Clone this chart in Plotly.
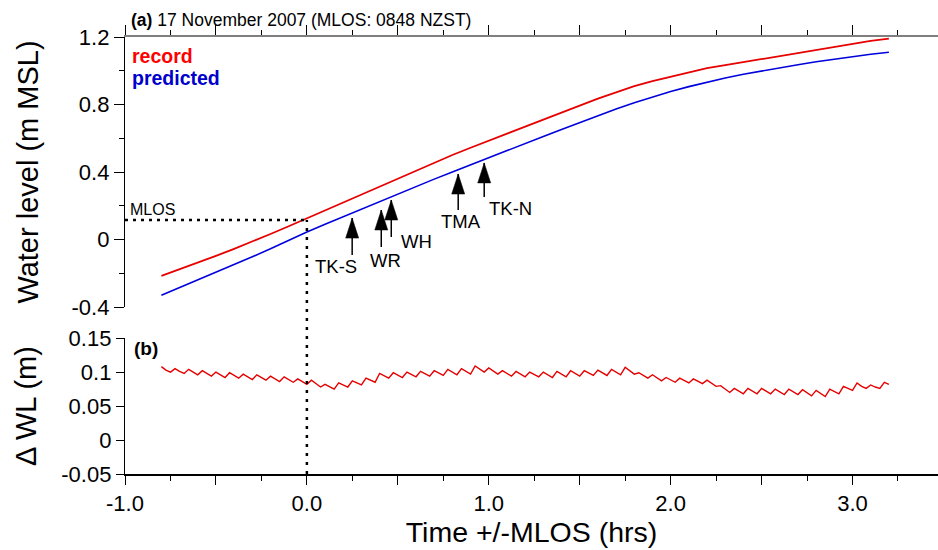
import numpy as np
import plotly.graph_objects as go

# ---------------- data ----------------
time_hr = np.round(np.linspace(-0.8, 3.2, 41), 3)

predicted_wl = [-0.330, -0.285, -0.240, -0.195, -0.150, -0.102, -0.055, -0.005, 0.045, 0.090,
                0.135, 0.180, 0.225, 0.270, 0.315, 0.358, 0.400, 0.443, 0.485, 0.527,
                0.569, 0.611, 0.652, 0.694, 0.735, 0.774, 0.811, 0.845, 0.877, 0.906,
                0.933, 0.957, 0.979, 0.999, 1.018, 1.036, 1.053, 1.069, 1.084, 1.098,
                1.110]

record_wl = [-0.215, -0.177, -0.138, -0.097, -0.055, -0.012, 0.033, 0.079, 0.126, 0.172,
             0.220, 0.268, 0.316, 0.364, 0.411, 0.457, 0.501, 0.544, 0.585, 0.625,
             0.666, 0.708, 0.750, 0.793, 0.835, 0.874, 0.909, 0.938, 0.965, 0.992,
             1.015, 1.033, 1.051, 1.070, 1.088, 1.105, 1.121, 1.140, 1.161, 1.177,
             1.191]

delta_time_hr = np.round(np.linspace(-0.8, 3.2, 161), 4)
delta_wl = [
    0.108, 0.103, 0.100, 0.105, 0.101, 0.098, 0.104, 0.100, 0.096, 0.102, 0.098, 0.094,
    0.100, 0.096, 0.092, 0.099, 0.095, 0.091, 0.097, 0.093, 0.089, 0.096, 0.092, 0.088,
    0.094, 0.090, 0.086, 0.093, 0.089, 0.085, 0.090, 0.086, 0.082, 0.088, 0.083, 0.078,
    0.082, 0.078, 0.075, 0.084, 0.081, 0.078, 0.087, 0.084, 0.081, 0.091, 0.088, 0.085,
    0.098, 0.095, 0.091, 0.099, 0.095, 0.092, 0.100, 0.096, 0.093, 0.101, 0.097, 0.094,
    0.102, 0.098, 0.095, 0.104, 0.100, 0.096, 0.105, 0.101, 0.097, 0.109, 0.104, 0.100,
    0.106, 0.101, 0.097, 0.102, 0.098, 0.094, 0.101, 0.097, 0.093, 0.100, 0.096, 0.093,
    0.100, 0.096, 0.092, 0.101, 0.097, 0.093, 0.102, 0.098, 0.094, 0.102, 0.098, 0.095,
    0.103, 0.099, 0.095, 0.104, 0.100, 0.096, 0.107, 0.102, 0.097, 0.099, 0.095, 0.091,
    0.096, 0.091, 0.087, 0.092, 0.088, 0.085, 0.091, 0.087, 0.084, 0.090, 0.086, 0.083,
    0.088, 0.083, 0.079, 0.080, 0.075, 0.070, 0.076, 0.072, 0.068, 0.076, 0.072, 0.068,
    0.076, 0.072, 0.068, 0.075, 0.071, 0.067, 0.075, 0.071, 0.067, 0.074, 0.070, 0.065,
    0.073, 0.068, 0.064, 0.075, 0.071, 0.068, 0.079, 0.076, 0.073, 0.084, 0.079, 0.076,
    0.081, 0.078, 0.076, 0.085, 0.082,
]

site_names = ["TK-S", "WR", "WH", "TMA", "TK-N"]
site_time_hr = [0.249, 0.409, 0.464, 0.832, 0.975]
site_tip_wl = [0.127, 0.175, 0.234, 0.388, 0.454]
site_tail_wl = [-0.092, -0.044, 0.015, 0.175, 0.252]

mlos_time_hr = 0.0
mlos_wl = 0.116

x_tick_vals = [-1.0, -0.5, 0.0, 0.5, 1.0, 1.5, 2.0, 2.5, 3.0, 3.5]
x_tick_text = ["-1.0", "", "0.0", "", "1.0", "", "2.0", "", "3.0", ""]
y1_tick_vals = [-0.4, 0.0, 0.4, 0.8, 1.2]
y1_tick_text = ["-0.4", "0", "0.4", "0.8", "1.2"]
y2_tick_vals = [-0.05, 0.0, 0.05, 0.10, 0.15]
y2_tick_text = ["-0.05", "0", "0.05", "0.1", "0.15"]

# ---------------- styles ----------------
FONT = "Liberation Sans, Arial, sans-serif"
RED = "#e60000"
BLUE = "#0000dd"
X_RANGE = [-1.0, 3.47]
Y1_RANGE = [-0.4, 1.2]
Y2_RANGE = [-0.05, 0.15]
Y1_DOMAIN = [0.382, 1.0]
Y2_DOMAIN = [0.0, 0.311]
label_style = [  # (xanchor, xshift, yshift)
    ("center", -16, 1),
    ("center", 4, -1),
    ("left", 8, 8),
    ("center", 3, 1),
    ("left", 3, 1),
]

fig = go.Figure()
fig.add_trace(go.Scatter(x=time_hr, y=record_wl, mode="lines",
                         line=dict(color=RED, width=1.8), xaxis="x", yaxis="y",
                         showlegend=False))
fig.add_trace(go.Scatter(x=time_hr, y=predicted_wl, mode="lines",
                         line=dict(color=BLUE, width=1.6), xaxis="x", yaxis="y",
                         showlegend=False))
fig.add_trace(go.Scatter(x=delta_time_hr, y=delta_wl, mode="lines",
                         line=dict(color=RED, width=1.4), xaxis="x2", yaxis="y2",
                         showlegend=False))

tickfont = dict(family=FONT, size=22, color="black")

fig.update_layout(
    width=938, height=550,
    margin=dict(l=125, r=0, t=37, b=76),
    paper_bgcolor="white", plot_bgcolor="white",
    font=dict(family=FONT, color="black"),
    xaxis=dict(domain=[0, 1], anchor="y", side="top", range=X_RANGE,
               showgrid=False, zeroline=False, showticklabels=False,
               tickvals=x_tick_vals, ticks="outside", ticklen=10, tickwidth=1.3,
               tickcolor="black", showline=True, linecolor="#7f7f7f", linewidth=2,
               minor=dict(dtick=0.25, tick0=0, ticks="outside", ticklen=5,
                          tickwidth=1.3, tickcolor="black")),
    yaxis=dict(domain=Y1_DOMAIN, anchor="x", range=Y1_RANGE,
               showgrid=False, zeroline=False,
               tickvals=y1_tick_vals, ticktext=y1_tick_text, tickfont=tickfont,
               ticks="outside", ticklen=10, tickwidth=1.3, tickcolor="black",
               showline=True, linecolor="black", linewidth=1.3,
               minor=dict(dtick=0.2, tick0=0, ticks="outside", ticklen=5,
                          tickwidth=1.3, tickcolor="black"),
               title=dict(text="Water level (m MSL)",
                          font=dict(family=FONT, size=29), standoff=24)),
    xaxis2=dict(domain=[0, 1], anchor="y2", range=X_RANGE, matches="x",
                showgrid=False, zeroline=False,
                tickvals=x_tick_vals, ticktext=x_tick_text, tickfont=tickfont,
                ticks="outside", ticklen=9, tickwidth=1.3, tickcolor="black",
                showline=True, linecolor="black", linewidth=1.5,
                minor=dict(dtick=0.25, tick0=0, ticks="outside", ticklen=5,
                           tickwidth=1.3, tickcolor="black"),
                title=dict(text="Time +/-MLOS (hrs)",
                           font=dict(family=FONT, size=28.5), standoff=4)),
    yaxis2=dict(domain=Y2_DOMAIN, anchor="x2", range=Y2_RANGE,
                showgrid=False, zeroline=False,
                tickvals=y2_tick_vals, ticktext=y2_tick_text, tickfont=tickfont,
                ticks="outside", ticklen=8, tickwidth=1.3, tickcolor="black",
                showline=True, linecolor="black", linewidth=1.3,
                title=dict(text="\u0394 WL (m)",
                           font=dict(family=FONT, size=29), standoff=16)),
)

annotations = [
    dict(text="<b>(a)</b> 17 November 2007 (MLOS: 0848 NZST)", xref="paper", yref="paper",
         x=0, y=1, xanchor="left", yanchor="bottom", xshift=4, yshift=5,
         showarrow=False, font=dict(family=FONT, size=17.5, color="black")),
    dict(text="<b>record</b>", xref="x domain", yref="y domain", x=0, y=0.93,
         xanchor="left", yanchor="middle", xshift=5, showarrow=False,
         font=dict(family=FONT, size=19.5, color="#ff0000")),
    dict(text="<b>predicted</b>", xref="x domain", yref="y domain", x=0, y=0.848,
         xanchor="left", yanchor="middle", xshift=5, showarrow=False,
         font=dict(family=FONT, size=19.5, color="#0000cc")),
    dict(text="<b>(b)</b>", xref="x2 domain", yref="y2 domain", x=0, y=0.926,
         xanchor="left", yanchor="middle", xshift=7, showarrow=False,
         font=dict(family=FONT, size=19, color="black")),
    dict(text="MLOS", xref="x domain", yref="y", x=0, y=mlos_wl,
         xanchor="left", yanchor="bottom", xshift=3, yshift=0, showarrow=False,
         font=dict(family=FONT, size=16, color="black")),
]

shapes = []
# MLOS dashed lines
shapes.append(dict(type="line", xref="x", yref="y", x0=X_RANGE[0], x1=mlos_time_hr,
                   y0=mlos_wl, y1=mlos_wl,
                   line=dict(color="black", width=2.5, dash="3px,5px")))
mlos_paper = Y1_DOMAIN[0] + (mlos_wl - Y1_RANGE[0]) / (Y1_RANGE[1] - Y1_RANGE[0]) * (Y1_DOMAIN[1] - Y1_DOMAIN[0])
shapes.append(dict(type="line", xref="x", yref="paper", x0=mlos_time_hr, x1=mlos_time_hr,
                   y0=0, y1=mlos_paper,
                   line=dict(color="black", width=2.5, dash="3px,6px")))

for name, st, tip, tail, (xa, xs, ys) in zip(site_names, site_time_hr, site_tip_wl,
                                             site_tail_wl, label_style):
    shapes.append(dict(type="line", xref="x", yref="y", x0=st, x1=st, y0=tail, y1=tip,
                       line=dict(color="black", width=1.5)))
    shapes.append(dict(type="path", xref="x", yref="y", xsizemode="pixel",
                       ysizemode="pixel", xanchor=st, yanchor=tip,
                       path="M0,0 L-6.5,-20 L6.5,-20 Z", fillcolor="black",
                       line=dict(color="black", width=0.5)))
    annotations.append(dict(text=name, xref="x", yref="y", x=st, y=tail,
                            xanchor=xa, yanchor="top", xshift=xs, yshift=ys,
                            showarrow=False,
                            font=dict(family=FONT, size=18.5, color="black")))

fig.update_layout(annotations=annotations, shapes=shapes)
fig.write_html("out.html")
